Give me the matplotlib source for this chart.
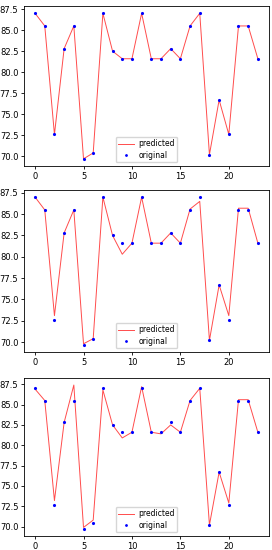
import matplotlib
matplotlib.use("Agg")
import matplotlib.pyplot as plt

x = list(range(24))

original = [87.0, 85.5, 72.6, 82.8, 85.5, 69.7, 70.4, 87.0, 82.5, 81.6, 81.6, 87.0,
            81.6, 81.6, 82.8, 81.6, 85.5, 87.0, 70.2, 76.7, 72.6, 85.5, 85.5, 81.6]

pred_1 = [87.0, 85.5, 72.6, 82.8, 85.5, 69.7, 70.4, 87.0, 82.5, 81.6, 81.6, 87.0,
          81.6, 81.6, 82.8, 81.6, 85.5, 87.0, 70.2, 76.7, 72.6, 85.5, 85.5, 81.6]

pred_2 = [87.0, 85.5, 73.1, 82.8, 85.5, 69.8, 70.4, 87.0, 82.5, 80.3, 81.6, 87.0,
          81.6, 81.6, 82.8, 81.6, 85.6, 86.5, 70.2, 76.7, 73.1, 85.7, 85.7, 81.6]

pred_3 = [86.9, 85.5, 73.2, 82.8, 87.4, 69.9, 70.8, 86.8, 82.5, 80.9, 81.6, 87.2,
          81.6, 81.4, 82.5, 81.6, 85.5, 87.0, 70.2, 76.7, 72.9, 85.6, 85.6, 81.6]

plt.rcParams['font.size'] = 6

fig = plt.figure(figsize=(2.72, 5.5), dpi=100)

# posiciones de los tres paneles (izq, abajo, ancho, alto)
boxes = [[0.088, 0.698, 0.901, 0.291],
         [0.088, 0.360, 0.901, 0.295],
         [0.088, 0.025, 0.901, 0.288]]

for box, pred in zip(boxes, [pred_1, pred_2, pred_3]):
    ax = fig.add_axes(box)
    ax.plot(x, pred, color='red', alpha=0.7, linewidth=0.7, label='predicted')
    ax.plot(x, original, '.', color='blue', markersize=2.5, label='original')
    ax.tick_params(labelsize=6, length=2.5, width=0.6, pad=1.5)
    for s in ax.spines.values():
        s.set_linewidth(0.6)
    ax.legend(loc='lower center', fontsize=5.5, handlelength=2.0, markerscale=0.8,
              borderpad=0.35, labelspacing=0.3, handletextpad=0.6)

fig.savefig('out.png', dpi=100)
